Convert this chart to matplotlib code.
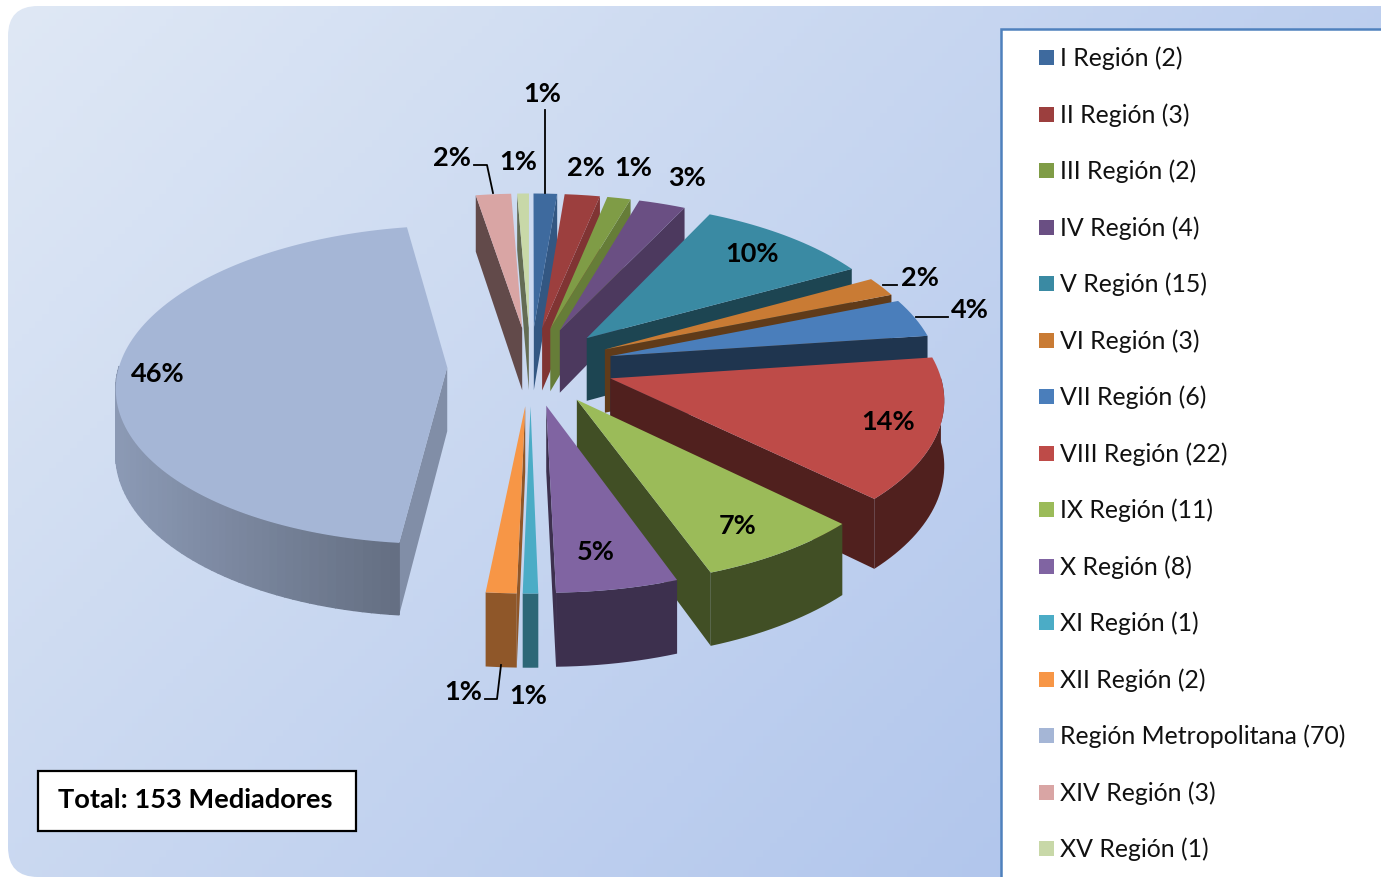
import numpy as np
import matplotlib
matplotlib.use('Agg')
from matplotlib import pyplot as plt
from matplotlib.patches import Polygon, Rectangle, FancyBboxPatch

regions = ['I Región', 'II Región', 'III Región', 'IV Región', 'V Región', 'VI Región',
           'VII Región', 'VIII Región', 'IX Región', 'X Región', 'XI Región', 'XII Región',
           'Región Metropolitana', 'XIV Región', 'XV Región']
mediadores = [2, 3, 2, 4, 15, 3, 6, 22, 11, 8, 1, 2, 70, 3, 1]
colors = ['#3E6A9E', '#9C3F3E', '#7F9C46', '#6A4F83', '#3A8AA3', '#C97B34', '#4A7EBB', '#BE4B48',
          '#9BBB59', '#8064A2', '#4BACC6', '#F79646', '#A5B6D6', '#D9A5A4', '#C8D8A8']
side_dark = [0.82, 0.82, 0.8, 0.72, 0.5, 0.48, 0.42, 0.42, 0.42, 0.48, 0.6, 0.58, 0.78, 0.45, 0.5]

# where the percentages sit, in picture pixels
label_xy = [(542, 94), (586, 168), (633, 168), (687, 178), (752, 254), (920, 278), (970, 310),
            (888, 422), (738, 526), (596, 552), (528, 696), (463, 692), (158, 374), (452, 158), (518, 162)]
leaders = [[(545, 110), (545, 193)], [(883, 285), (897, 285)], [(916, 317), (948, 317)],
           [(485, 699), (497, 699), (501, 665)], [(474, 165), (487, 165), (493, 193)]]

# pie geometry in pixels, worked out from the picture
cx, cy = 530.5, 366
kx, ky = 333, 157
explode = 0.25
rx = 0.985
persp = 0.11
depth = 64


def project(x, y, low=False):
    s = 1 / (1 + persp * y)
    return cx + kx * x * s, cy - ky * y * s + (depth * s if low else 0)


def shade(col, f):
    return np.array(matplotlib.colors.to_rgb(col)) * f


plt.rcParams['font.family'] = ['Lato', 'DejaVu Sans']
fig = plt.figure(figsize=(13.81, 8.77), dpi=100)
ax = fig.add_axes([0, 0, 1, 1])
ax.set_xlim(0, 1381)
ax.set_ylim(877, 0)
ax.axis('off')

# background
xx, yy = np.meshgrid(np.linspace(0, 1, 200), np.linspace(0, 1, 130))
t = np.clip(0.62 * xx + 0.38 * yy, 0, 1)[..., None]
grad = np.array([0.875, 0.91, 0.96]) * (1 - t) + np.array([0.66, 0.75, 0.92]) * t
img = ax.imshow(grad, extent=[8, 1381, 877, 6], aspect='auto', zorder=0)
frame = FancyBboxPatch((8, 6), 1450, 871, boxstyle='round,pad=0,rounding_size=30',
                       transform=ax.transData, facecolor='none', edgecolor='none')
ax.add_patch(frame)
img.set_clip_path(frame)
ax.set_xlim(0, 1381)
ax.set_ylim(877, 0)

total = sum(mediadores)
cum = np.cumsum([0] + mediadores) / total * 2 * np.pi
order = sorted(range(len(mediadores)), key=lambda i: -np.cos((cum[i] + cum[i + 1]) / 2))
z = 2
for i in order:
    a, b = cum[i], cum[i + 1]
    mid = (a + b) / 2
    ox, oy = explode * np.sin(mid), explode * np.cos(mid)
    ang = np.linspace(a, b, max(int((b - a) * 40), 3))
    ex, ey = ox + rx * np.sin(ang), oy + np.cos(ang)
    tip = project(ox, oy)
    tip_low = project(ox, oy, True)
    top = [project(u, v) for u, v in zip(ex, ey)]
    low = [project(u, v, True) for u, v in zip(ex, ey)]
    f = side_dark[i]
    # cut faces first, only those turned to the viewer
    if np.sin(a) < 0:
        ax.add_patch(Polygon([tip, top[0], low[0], tip_low], fc=shade(colors[i], f), ec='none', zorder=z))
    if np.sin(b) > 0:
        ax.add_patch(Polygon([tip, top[-1], low[-1], tip_low], fc=shade(colors[i], f), ec='none', zorder=z))
    z += 1
    # outer wall; the big slice darkens along the curve, the rest are flat
    if i == 12:
        for j in range(len(ang) - 1):
            if np.cos((ang[j] + ang[j + 1]) / 2) > 0:
                continue
            g = f * (1.08 - 0.32 * np.clip((top[j][0] - 120) / 300, 0, 1))
            c = np.clip(shade(colors[i], g), 0, 1)
            ax.add_patch(Polygon([top[j], top[j + 1], low[j + 1], low[j]], fc=c, ec=c, lw=1, zorder=z))
    else:
        keep = [k for k in range(len(ang)) if np.cos(ang[k]) <= 0.02]
        if len(keep) > 1:
            ax.add_patch(Polygon([top[k] for k in keep] + [low[k] for k in keep[::-1]],
                                 fc=shade(colors[i], f), ec='none', zorder=z))
    z += 1
    ax.add_patch(Polygon([tip] + top, fc=colors[i], ec='none', zorder=z))
    z += 1

# percentages
for v, (lx, ly) in zip(mediadores, label_xy):
    ax.text(lx, ly, '%d%%' % round(v / total * 100), ha='center', va='center', fontsize=19.5,
            fontweight='bold', color='black', zorder=500)
for pts in leaders:
    ax.plot([p[0] for p in pts], [p[1] for p in pts], color='black', lw=1.3, zorder=499)

# legend
ax.add_patch(Rectangle((1001, 29), 400, 870, fc='white', ec='#4F81BD', lw=1.8, zorder=500))
for i, (name, v) in enumerate(zip(regions, mediadores)):
    y = 57.5 + i * 56.5
    ax.add_patch(Rectangle((1039, y - 7.5), 15, 15, fc=colors[i], ec='none', zorder=501))
    ax.text(1060.5, y + 1, '%s (%d)' % (name, v), ha='left', va='center', fontsize=17.9, color='#111111', zorder=501)

# total box
ax.add_patch(Rectangle((38.5, 770.5), 318, 60, fc='white', ec='black', lw=1.6, zorder=500))
ax.text(195, 800, 'Total: 153 Mediadores', ha='center', va='center', fontsize=19.6, fontweight='bold', zorder=501)

fig.savefig('out.png', dpi=100)
